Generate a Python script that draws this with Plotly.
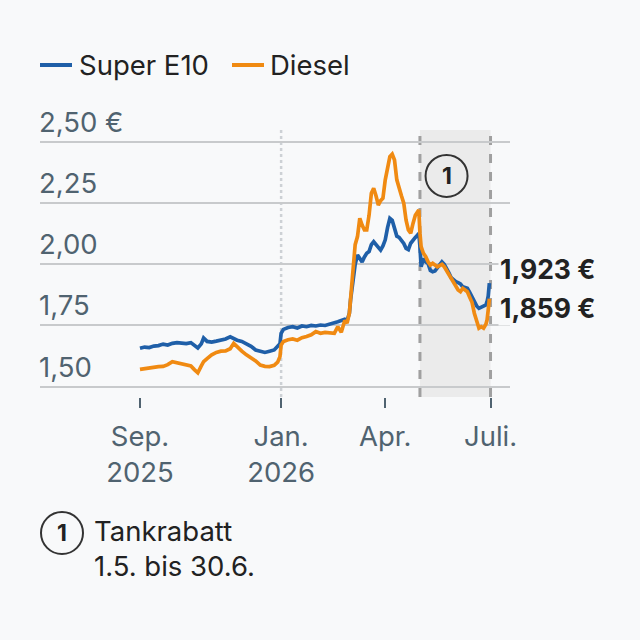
import plotly.graph_objects as go

# ---- data ----
dates = [
    "2025-09-01", "2025-09-05", "2025-09-09", "2025-09-13", "2025-09-17", "2025-09-21",
    "2025-09-25", "2025-09-29", "2025-10-03", "2025-10-07", "2025-10-11", "2025-10-15",
    "2025-10-18", "2025-10-21", "2025-10-24", "2025-10-26", "2025-10-29", "2025-11-02",
    "2025-11-06", "2025-11-10", "2025-11-14", "2025-11-18", "2025-11-21", "2025-11-24",
    "2025-11-28", "2025-12-02", "2025-12-06", "2025-12-10", "2025-12-14", "2025-12-18",
    "2025-12-22", "2025-12-26", "2025-12-29", "2025-12-31", "2026-01-01", "2026-01-03",
    "2026-01-07", "2026-01-11", "2026-01-15", "2026-01-19", "2026-01-23", "2026-01-27",
    "2026-01-31", "2026-02-04", "2026-02-08", "2026-02-12", "2026-02-16", "2026-02-19",
    "2026-02-22", "2026-02-25", "2026-02-27", "2026-03-01", "2026-03-02", "2026-03-04",
    "2026-03-06", "2026-03-08", "2026-03-10", "2026-03-12", "2026-03-14", "2026-03-16",
    "2026-03-18", "2026-03-20", "2026-03-22", "2026-03-24", "2026-03-26", "2026-03-28",
    "2026-03-30", "2026-04-01", "2026-04-03", "2026-04-05", "2026-04-07", "2026-04-09",
    "2026-04-11", "2026-04-13", "2026-04-15", "2026-04-17", "2026-04-19", "2026-04-21",
    "2026-04-23", "2026-04-25", "2026-04-27", "2026-04-29", "2026-04-30", "2026-05-01",
    "2026-05-02", "2026-05-04", "2026-05-06", "2026-05-08", "2026-05-10", "2026-05-12",
    "2026-05-14", "2026-05-16", "2026-05-18", "2026-05-20", "2026-05-22", "2026-05-24",
    "2026-05-26", "2026-05-28", "2026-05-30", "2026-06-01", "2026-06-03", "2026-06-05",
    "2026-06-07", "2026-06-09", "2026-06-11", "2026-06-13", "2026-06-15", "2026-06-17",
    "2026-06-19", "2026-06-21", "2026-06-23", "2026-06-25", "2026-06-27", "2026-06-28",
    "2026-06-29", "2026-06-30",
]
super_e10 = [
    1.657, 1.662, 1.660, 1.666, 1.668, 1.674,
    1.670, 1.677, 1.680, 1.678, 1.676, 1.680,
    1.668, 1.658, 1.675, 1.699, 1.685, 1.682,
    1.686, 1.690, 1.695, 1.704, 1.695, 1.690,
    1.685, 1.676, 1.665, 1.650, 1.645, 1.640,
    1.645, 1.650, 1.665, 1.675, 1.718, 1.734,
    1.742, 1.745, 1.740, 1.748, 1.745, 1.750,
    1.748, 1.752, 1.750, 1.755, 1.758, 1.765,
    1.770, 1.775, 1.770, 1.800, 1.854, 1.936,
    2.000, 2.038, 2.025, 2.010, 2.030, 2.045,
    2.052, 2.080, 2.092, 2.080, 2.072, 2.058,
    2.075, 2.100, 2.150, 2.188, 2.180, 2.140,
    2.115, 2.110, 2.100, 2.085, 2.065, 2.060,
    2.086, 2.100, 2.110, 2.120, 2.127, 2.072,
    1.990, 2.024, 2.010, 2.004, 1.975, 1.970,
    1.973, 1.985, 1.995, 2.010, 2.000, 1.985,
    1.965, 1.945, 1.935, 1.929, 1.925, 1.920,
    1.908, 1.905, 1.902, 1.885, 1.865, 1.848,
    1.830, 1.820, 1.826, 1.830, 1.834, 1.847,
    1.870, 1.923,
]
diesel = [
    1.571, 1.574, 1.578, 1.580, 1.582, 1.583,
    1.590, 1.602, 1.598, 1.594, 1.592, 1.585,
    1.570, 1.557, 1.585, 1.602, 1.615, 1.630,
    1.640, 1.645, 1.646, 1.655, 1.677, 1.662,
    1.645, 1.630, 1.618, 1.605, 1.588, 1.583,
    1.582, 1.587, 1.600, 1.623, 1.670, 1.685,
    1.692, 1.695, 1.690, 1.700, 1.705, 1.712,
    1.725, 1.718, 1.722, 1.720, 1.718, 1.745,
    1.722, 1.770, 1.760, 1.800, 1.854, 1.980,
    2.080, 2.113, 2.188, 2.160, 2.140, 2.140,
    2.200, 2.290, 2.310, 2.280, 2.242, 2.260,
    2.270, 2.345, 2.400, 2.440, 2.450, 2.426,
    2.345, 2.305, 2.280, 2.250, 2.180, 2.140,
    2.127, 2.167, 2.200, 2.215, 2.222, 2.127,
    2.072, 2.045, 2.031, 2.010, 1.997, 2.004,
    1.995, 1.990, 1.995, 2.000, 1.990, 1.975,
    1.960, 1.940, 1.925, 1.910, 1.895, 1.888,
    1.902, 1.895, 1.888, 1.865, 1.845, 1.800,
    1.766, 1.739, 1.745, 1.739, 1.755, 1.772,
    1.813, 1.859,
]
series_names = ["Super E10", "Diesel"]
y_ticks = [1.50, 1.75, 2.00, 2.25, 2.50]
y_tick_labels = ["1,50", "1,75", "2,00", "2,25", "2,50 €"]
x_ticks = ["2025-09-01", "2026-01-01", "2026-04-01", "2026-07-01"]
x_tick_labels = ["Sep.<br>2025", "Jan.<br>2026", "Apr.", "Juli."]
end_labels = ["1,923 €", "1,859 €"]
rabatt_start, rabatt_end = "2026-05-01", "2026-07-01"
jan_marker = "2026-01-01"
note_lines = ["Tankrabatt", "1.5. bis 30.6."]

# ---- style ----
BG = "#f8f9fa"
BLUE = "#1f5fa8"
ORANGE = "#f08a12"
GRID = "#c8cacc"
AXIS_TXT = "#506370"
DARK = "#222222"
FONT = "Inter"
FS = 27.5

# plot area in pixels
L, R, T, B = 40, 510, 130, 397
W, H = 640, 640
pw, ph = R - L, B - T

def px_x(p):
    return (p - L) / pw

def px_y(p):
    return (B - p) / ph

fig = go.Figure()
fig.add_trace(go.Scatter(x=dates, y=super_e10, mode="lines", name=series_names[0],
                         line=dict(color=BLUE, width=3.7), showlegend=False))
fig.add_trace(go.Scatter(x=dates, y=diesel, mode="lines", name=series_names[1],
                         line=dict(color=ORANGE, width=3.7), showlegend=False))

shapes = []
shapes.append(dict(type="rect", xref="x", yref="paper", x0=rabatt_start, x1=rabatt_end,
                   y0=0, y1=1, fillcolor="#ebebeb", line=dict(width=0), layer="below"))
for xv in (rabatt_start, rabatt_end):
    shapes.append(dict(type="line", xref="x", yref="paper", x0=xv, x1=xv, y0=0, y1=1,
                       line=dict(color="#a0a0a0", width=3, dash="dash"), layer="below"))
shapes.append(dict(type="line", xref="x", yref="paper", x0=jan_marker, x1=jan_marker, y0=0, y1=1,
                   line=dict(color="#cdd1d5", width=2.5, dash="dot"), layer="below"))
shapes.append(dict(type="circle", xref="x", yref="y", xsizemode="pixel", ysizemode="pixel",
                   xanchor="2026-05-24", yanchor=2.361, x0=-21, x1=21, y0=-21, y1=21,
                   line=dict(color="#333333", width=2), fillcolor="rgba(0,0,0,0)"))
shapes.append(dict(type="circle", xref="paper", yref="paper",
                   x0=px_x(41), x1=px_x(83), y0=px_y(554), y1=px_y(512),
                   line=dict(color="#333333", width=2), fillcolor="rgba(0,0,0,0)"))
shapes.append(dict(type="line", xref="paper", yref="paper", x0=px_x(40), x1=px_x(72),
                   y0=px_y(65), y1=px_y(65), line=dict(color=BLUE, width=4)))
shapes.append(dict(type="line", xref="paper", yref="paper", x0=px_x(232), x1=px_x(264),
                   y0=px_y(65), y1=px_y(65), line=dict(color=ORANGE, width=4)))

ann = []
ann.append(dict(xref="paper", yref="paper", x=px_x(77), y=px_y(65), text=series_names[0],
                xanchor="left", yanchor="middle", showarrow=False,
                font=dict(family=FONT, size=FS, color=DARK)))
ann.append(dict(xref="paper", yref="paper", x=px_x(268), y=px_y(65), text=series_names[1],
                xanchor="left", yanchor="middle", showarrow=False,
                font=dict(family=FONT, size=FS, color=DARK)))
for v, t in zip(y_ticks, y_tick_labels):
    ann.append(dict(xref="paper", yref="y", x=0, y=v, text=t, xanchor="left", yanchor="bottom",
                    xshift=-3, yshift=1, showarrow=False,
                    font=dict(family=FONT, size=FS, color=AXIS_TXT)))
ann.append(dict(xref="x", yref="y", x=dates[-1], y=super_e10[-1], text="<b>%s</b>" % end_labels[0],
                xanchor="left", yanchor="middle", xshift=9, yshift=14, showarrow=False,
                bgcolor=BG, font=dict(family=FONT, size=FS - 1, color=DARK)))
ann.append(dict(xref="x", yref="y", x=dates[-1], y=diesel[-1], text="<b>%s</b>" % end_labels[1],
                xanchor="left", yanchor="middle", xshift=9, yshift=-9, showarrow=False,
                bgcolor=BG, font=dict(family=FONT, size=FS - 1, color=DARK)))
ann.append(dict(xref="x", yref="y", x="2026-05-24", y=2.361, text="<b>1</b>", showarrow=False,
                xanchor="center", yanchor="middle", font=dict(family=FONT, size=23, color=DARK)))
ann.append(dict(xref="paper", yref="paper", x=px_x(62), y=px_y(533), text="<b>1</b>", showarrow=False,
                xanchor="center", yanchor="middle", font=dict(family=FONT, size=23, color=DARK)))
ann.append(dict(xref="paper", yref="paper", x=px_x(92), y=px_y(531), text=note_lines[0],
                xanchor="left", yanchor="middle", showarrow=False,
                font=dict(family=FONT, size=FS, color=DARK)))
ann.append(dict(xref="paper", yref="paper", x=px_x(92), y=px_y(566), text=note_lines[1],
                xanchor="left", yanchor="middle", showarrow=False,
                font=dict(family=FONT, size=FS, color=DARK)))

fig.update_layout(
    width=W, height=H,
    margin=dict(l=L, r=W - R, t=T, b=H - B, pad=0),
    paper_bgcolor=BG, plot_bgcolor=BG,
    shapes=shapes, annotations=ann, showlegend=False,
    xaxis=dict(type="date", range=["2025-06-06 14:00", "2026-07-17 20:00"],
               tickvals=x_ticks, ticktext=x_tick_labels, showgrid=False, zeroline=False,
               showline=False, ticks="outside", ticklen=10, tickwidth=2, tickcolor="#506370",
               ticklabelstandoff=5,
               tickfont=dict(family=FONT, size=FS, color=AXIS_TXT)),
    yaxis=dict(range=[1.4579, 2.5486], tickvals=y_ticks, showticklabels=False,
               showgrid=True, gridcolor=GRID, gridwidth=2, zeroline=False, showline=False),
)

fig.write_html("out.html")
